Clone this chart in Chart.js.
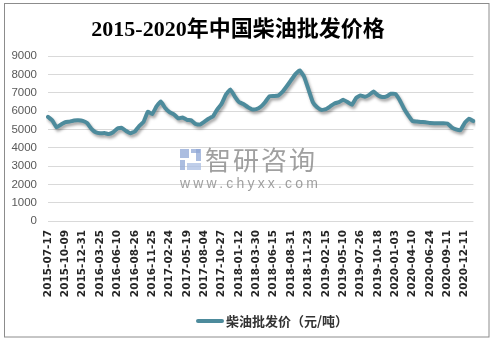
<!DOCTYPE html>
<html>
<head>
<meta charset="utf-8">
<script src="https://cdn.jsdelivr.net/npm/chart.js@4/dist/chart.umd.min.js"></script>
<style>
  html, body { margin: 0; padding: 0; background: #fff; }
  canvas { display: block; }
</style>
</head>
<body>
<canvas id="chart" width="495" height="342"></canvas>
<script>
// Dates printed under the axis (one every LABEL_STEP points)
const tickDates = [
  '2015-07-17', '2015-10-09', '2015-12-31', '2016-03-25', '2016-06-10',
  '2016-08-26', '2016-11-25', '2017-02-24', '2017-05-19', '2017-08-04',
  '2017-10-27', '2018-01-12', '2018-03-30', '2018-06-15', '2018-08-31',
  '2018-11-23', '2019-02-15', '2019-05-10', '2019-07-26', '2019-10-18',
  '2020-01-03', '2020-04-10', '2020-06-24', '2020-09-11', '2020-12-11'
];
const LABEL_STEP = 4;

// Diesel wholesale price, yuan per tonne
const dieselPrice = [
  5680, 5480, 5110, 5260, 5390, 5420, 5480, 5490, 5460, 5340,
  5030, 4840, 4780, 4800, 4740, 4840, 5050, 5080, 4910, 4790,
  4880, 5180, 5400, 5960, 5830, 6250, 6520, 6160, 5940, 5820,
  5600, 5650, 5520, 5490, 5290, 5260, 5410, 5580, 5700, 6090,
  6400, 6900, 7180, 6800, 6490, 6380, 6220, 6090, 6100, 6230,
  6480, 6800, 6820, 6840, 7040, 7350, 7680, 8010, 8210, 7870,
  7180, 6490, 6200, 6060, 6100, 6250, 6410, 6480, 6620, 6490,
  6340, 6720, 6850, 6780, 6880, 7060, 6860, 6760, 6800, 6940,
  6930, 6600, 6140, 5760, 5450, 5430, 5400, 5390, 5340, 5330,
  5330, 5330, 5320, 5110, 5000, 4950, 5350, 5580, 5450
];

const seriesName = '柴油批发价（元/吨）';
const chartTitle = '2015-2020年中国柴油批发价格';
const yMin = 0, yMax = 9000, yStep = 1000;

const LINE_COLOR = '#4d8b9c';

const categories = dieselPrice.map((_, i) =>
  i % LABEL_STEP === 0 && tickDates[i / LABEL_STEP] ? tickDates[i / LABEL_STEP] : '');

// soft drop shadow under the price line
const lineShadow = {
  id: 'lineShadow',
  beforeDatasetDraw(chart) {
    const ctx = chart.ctx;
    ctx.save();
    ctx.shadowColor = 'rgba(0,0,0,0.35)';
    ctx.shadowBlur = 3;
    ctx.shadowOffsetX = 1.5;
    ctx.shadowOffsetY = 2.5;
  },
  afterDatasetDraw(chart) {
    chart.ctx.restore();
  }
};

// background, watermark, legend and outer frame
const decorations = {
  id: 'decorations',
  beforeDraw(chart) {
    const ctx = chart.ctx;
    ctx.save();
    ctx.fillStyle = '#ffffff';
    ctx.fillRect(0, 0, chart.width, chart.height);
    ctx.restore();
  },
  beforeDatasetsDraw(chart) {
    const ctx = chart.ctx;
    ctx.save();
    ctx.globalAlpha = 0.75;
    // logo blocks
    ctx.fillStyle = '#8fa7d6';
    ctx.fillRect(180, 149, 9, 9);
    ctx.fillRect(191, 149, 9, 4);
    ctx.fillRect(196, 149, 5, 12);
    ctx.fillRect(180, 160, 5, 10);
    ctx.fillStyle = '#a9bde3';
    ctx.fillRect(187, 163, 14, 7);
    // brand name and site
    ctx.fillStyle = '#808080';
    ctx.font = '26px "Noto Sans CJK SC", sans-serif';
    ctx.textBaseline = 'middle';
    ctx.textAlign = 'left';
    ctx.letterSpacing = '2px';
    ctx.fillText('智研咨询', 205, 160);
    ctx.font = '14px "Liberation Sans", Arial, sans-serif';
    ctx.letterSpacing = '3.2px';
    ctx.fillText('www.chyxx.com', 180, 184);
    ctx.restore();
  },
  afterDraw(chart) {
    const ctx = chart.ctx;
    const ds = chart.data.datasets[0];
    ctx.save();
    // legend
    ctx.strokeStyle = ds.borderColor;
    ctx.lineWidth = 4;
    ctx.lineCap = 'round';
    ctx.beginPath();
    ctx.moveTo(198, 321);
    ctx.lineTo(222, 321);
    ctx.stroke();
    ctx.fillStyle = '#333333';
    ctx.font = 'bold 13px "Noto Sans CJK SC", sans-serif';
    ctx.textBaseline = 'middle';
    ctx.textAlign = 'left';
    ctx.fillText(ds.label, 226, 321);
    // frame
    ctx.strokeStyle = '#8c8c8c';
    ctx.lineWidth = 1;
    ctx.lineCap = 'butt';
    ctx.strokeRect(4.5, 3.5, 484.5, 333.5);
    ctx.restore();
  }
};

new Chart(document.getElementById('chart'), {
  type: 'line',
  data: {
    labels: categories,
    datasets: [{
      label: seriesName,
      data: dieselPrice,
      borderColor: LINE_COLOR,
      backgroundColor: LINE_COLOR,
      borderWidth: 4,
      borderJoinStyle: 'round',
      borderCapStyle: 'round',
      pointRadius: 0,
      tension: 0.1,
      fill: false
    }]
  },
  options: {
    responsive: false,
    animation: false,
    layout: { padding: { left: 0, right: 19, top: 0, bottom: 0 } },
    plugins: {
      legend: { display: false },
      tooltip: { enabled: false },
      title: {
        display: true,
        text: chartTitle,
        color: '#000000',
        font: { family: '"Liberation Serif", "Noto Sans CJK SC", serif', size: 22, weight: 'bold', lineHeight: 1.2 },
        padding: { top: 17, bottom: 12.6 }
      }
    },
    scales: {
      x: {
        type: 'category',
        offset: false,
        grid: { display: false, drawTicks: false },
        border: { display: false },
        ticks: {
          autoSkip: false,
          maxRotation: 90,
          minRotation: 90,
          padding: 9,
          color: '#262626',
          font: { family: '"DejaVu Sans", sans-serif', size: 10.5, weight: 'bold' }
        },
        afterFit(scale) { scale.height = 121; }
      },
      y: {
        min: yMin,
        max: yMax,
        grid: { color: '#d9d9d9', lineWidth: 1, drawTicks: false },
        border: { display: false },
        ticks: {
          stepSize: yStep,
          padding: 11,
          color: '#595959',
          font: { family: '"Liberation Sans", Arial, sans-serif', size: 11.5 },
          callback: (v) => String(v)
        },
        afterFit(scale) { scale.width = 48; }
      }
    }
  },
  plugins: [decorations, lineShadow]
});
</script>
</body>
</html>
